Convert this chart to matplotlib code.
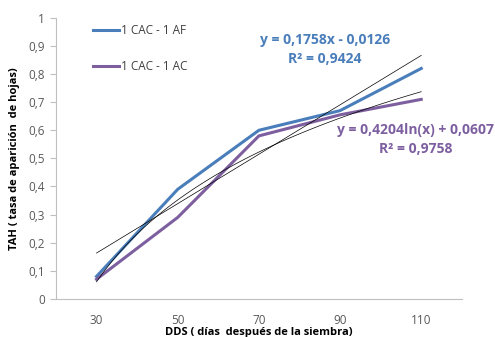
import numpy as np
import matplotlib
matplotlib.use("Agg")
import matplotlib.pyplot as plt

plt.rcParams["font.family"] = ["Open Sans", "DejaVu Sans"]

# ── Data ──────────────────────────────────────────────────────────────────────
dds = ["30", "50", "70", "90", "110"]
tah_af = [0.08, 0.39, 0.60, 0.67, 0.82]
tah_ac = [0.07, 0.29, 0.58, 0.655, 0.71]

# trendline coefficients (linear for AF, log for AC)
lin_slope, lin_icpt, lin_r2 = 0.1758, -0.0126, 0.9424
log_coef, log_icpt, log_r2 = 0.4204, 0.0607, 0.9758

BLUE = "#4a7ebb"
PURPLE = "#7d5fa0"
TICK = "#595959"

fig = plt.figure(figsize=(4.95, 3.37), dpi=100)
ax = fig.add_axes([0.113, 0.113, 0.820, 0.834])

x = np.arange(1, len(dds) + 1)
ax.plot(x, tah_af, color=BLUE, lw=2.2, label="1 CAC - 1 AF")
ax.plot(x, tah_ac, color=PURPLE, lw=2.2, label="1 CAC - 1 AC")

# trendlines
xs = np.linspace(1, len(dds), 100)
ax.plot(xs, lin_slope * xs + lin_icpt, color="black", lw=0.5)
ax.plot(xs, log_coef * np.log(xs) + log_icpt, color="black", lw=0.5)

ax.text(3.81, 0.886, f"y = {lin_slope:.4f}x - {abs(lin_icpt):.4f}\nR² = {lin_r2:.4f}".replace(".", ","),
        color=BLUE, fontsize=10, fontweight="bold", ha="center", va="center", linespacing=1.45)
ax.text(4.93, 0.566, f"y = {log_coef:.4f}ln(x) + {log_icpt:.4f}\nR² = {log_r2:.4f}".replace(".", ","),
        color=PURPLE, fontsize=10, fontweight="bold", ha="center", va="center", linespacing=1.45,
        clip_on=False)

ax.set_xlim(0.5, len(dds) + 0.5)
ax.set_ylim(0, 1)
ax.set_xticks(x)
ax.set_xticklabels(dds)
ax.set_yticks(np.arange(0, 1.01, 0.1))
ax.set_yticklabels(["0"] + [f"{v:.1f}".replace(".", ",") for v in np.arange(0.1, 0.95, 0.1)] + ["1"])
ax.tick_params(axis="both", colors="#bfbfbf", labelcolor=TICK, labelsize=8.5)
ax.tick_params(axis="x", length=0, pad=11)
ax.tick_params(axis="y", length=4, pad=4)

for side in ("top", "right"):
    ax.spines[side].set_visible(False)
for side in ("left", "bottom"):
    ax.spines[side].set_color("#bfbfbf")

ax.set_xlabel("DDS ( días  después de la siembra)", fontsize=8, fontweight="bold")
ax.xaxis.set_label_coords(0.5, -0.121)
ax.xaxis.label.set_va("center")
ax.set_ylabel("TAH ( tasa de aparición  de hojas)", fontsize=8, fontweight="bold", labelpad=6)

ax.legend(loc="upper left", bbox_to_anchor=(0.065, 1.015), frameon=False, fontsize=8.5,
          handlelength=2.2, handletextpad=0.15, labelspacing=1.9, labelcolor="#404040")

fig.savefig("out.png", dpi=100)
